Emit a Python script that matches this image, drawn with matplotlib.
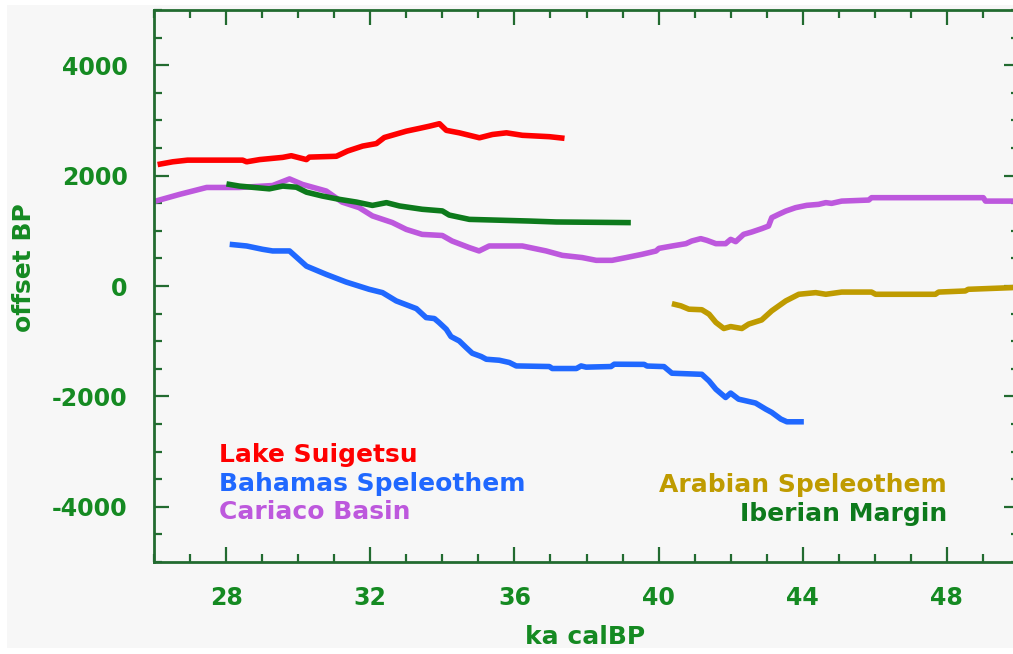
import numpy as np
import matplotlib
matplotlib.use('Agg')
import matplotlib.pyplot as plt
from matplotlib.patches import Rectangle
from matplotlib.ticker import MultipleLocator

# values (ka calBP, offset in years)
suigetsu_x = [26.10, 26.52, 26.93, 28.46, 28.57, 28.93, 29.57, 29.81, 30.23, 30.31,
              31.06, 31.37, 31.79, 32.17, 32.39, 33.00, 33.36, 33.64, 33.92, 34.11,
              34.47, 35.03, 35.39, 35.78, 36.22, 36.97, 37.39]
suigetsu_y = [2200, 2250, 2280, 2280, 2250, 2290, 2330, 2360, 2290, 2335,
              2350, 2445, 2535, 2580, 2690, 2805, 2855, 2895, 2940, 2820,
              2775, 2685, 2745, 2775, 2730, 2705, 2675]

iberian_x = [28.01, 28.37, 29.20, 29.57, 29.95, 30.23, 30.67, 31.14, 31.62, 32.06,
             32.45, 32.81, 33.44, 34.00, 34.19, 34.75, 36.41, 37.16, 39.23]
iberian_y = [1850, 1810, 1760, 1810, 1790, 1700, 1630, 1570, 1520, 1460,
             1510, 1450, 1390, 1360, 1285, 1207, 1177, 1160, 1148]

cariaco_x = [26.00, 26.71, 27.46, 28.37, 29.29, 29.76, 30.12, 30.78, 31.22, 31.69,
             32.06, 32.61, 33.00, 33.44, 34.00, 34.27, 34.75, 35.02, 35.30, 36.22,
             36.88, 37.33, 37.88, 38.27, 38.71, 39.10, 39.54, 39.93, 40.01, 40.37,
             40.76, 40.92, 41.17, 41.34, 41.59, 41.86, 42.00, 42.14, 42.36, 42.58,
             42.86, 43.05, 43.14, 43.33, 43.53, 43.80, 44.11, 44.44, 44.64, 44.80,
             45.08, 45.83, 45.91, 49.01, 49.07, 50.00]
cariaco_y = [1530, 1660, 1785, 1785, 1820, 1940, 1840, 1720, 1520, 1420,
             1270, 1150, 1025, 935, 915, 815, 695, 635, 725, 725,
             635, 555, 515, 465, 465, 515, 574, 634, 682, 724,
             767, 815, 858, 827, 767, 767, 845, 803, 936, 977,
             1039, 1086, 1238, 1298, 1358, 1419, 1461, 1479, 1510, 1497,
             1538, 1557, 1600, 1600, 1538, 1538]

bahamas_x = [28.10, 28.57, 29.01, 29.29, 29.76, 30.23, 30.78, 31.33, 31.97, 32.34,
             32.72, 33.28, 33.55, 33.78, 33.91, 34.11, 34.24, 34.47, 34.66, 34.83,
             35.08, 35.22, 35.58, 35.86, 36.05, 36.97, 37.05, 37.72, 37.85, 37.99,
             38.68, 38.77, 39.60, 39.68, 40.15, 40.37, 41.20, 41.40, 41.59, 41.86,
             42.00, 42.22, 42.69, 42.97, 43.14, 43.39, 43.56, 44.03]
bahamas_y = [755, 725, 665, 635, 635, 360, 210, 72, -60, -120,
             -270, -410, -572, -590, -662, -784, -916, -995, -1115, -1218,
             -1278, -1327, -1345, -1386, -1448, -1459, -1495, -1495, -1448, -1470,
             -1459, -1417, -1420, -1450, -1460, -1580, -1600, -1720, -1870, -2020,
             -1940, -2050, -2120, -2230, -2290, -2410, -2460, -2460]

arabian_x = [40.37, 40.62, 40.84, 41.20, 41.40, 41.59, 41.81, 42.00, 42.31, 42.50,
             42.86, 43.14, 43.53, 43.89, 44.36, 44.64, 45.08, 45.91, 46.02, 47.68,
             47.77, 48.51, 48.59, 49.79, 50.00]
arabian_y = [-320, -360, -420, -430, -510, -660, -770, -735, -770, -690,
             -615, -450, -270, -150, -120, -150, -110, -110, -150, -150,
             -110, -90, -60, -30, -20]

xtick_vals = [28, 32, 36, 40, 44, 48]
ytick_vals = [-4000, -2000, 0, 2000, 4000]
ytick_lbls = ['-4000', '-2000', '0', '2000', '4000']

red = '#ff0000'
blue = '#2068ff'
purple = '#bd58dd'
gold = '#bf9b00'
green = '#0d7a1c'
axis_green = '#226b30'
text_green = '#158a22'
bg = '#f7f7f7'

fig = plt.figure(figsize=(10.13, 6.54), dpi=100)
fig.patch.set_facecolor('white')
fig.patches.append(Rectangle((7 / 1013, 6 / 654), 1, 643 / 654, transform=fig.transFigure,
                             facecolor=bg, edgecolor='none', zorder=-10))

ax = fig.add_axes([154 / 1013, 92 / 654, 865 / 1013, 552 / 654])
ax.set_facecolor(bg)

lw = 4.0
ax.plot(suigetsu_x, suigetsu_y, color=red, lw=lw, solid_capstyle='butt')
ax.plot(cariaco_x, cariaco_y, color=purple, lw=lw, solid_capstyle='butt')
ax.plot(iberian_x, iberian_y, color=green, lw=lw, solid_capstyle='butt')
ax.plot(bahamas_x, bahamas_y, color=blue, lw=lw, solid_capstyle='butt')
ax.plot(arabian_x, arabian_y, color=gold, lw=lw, solid_capstyle='butt')

ax.set_xlim(26, 50)
ax.set_ylim(-5000, 5000)

ax.set_xticks(xtick_vals)
ax.set_yticks(ytick_vals)
ax.set_yticklabels(ytick_lbls)
ax.xaxis.set_minor_locator(MultipleLocator(1))
ax.yaxis.set_minor_locator(MultipleLocator(500))

for s in ax.spines.values():
    s.set_color(axis_green)
    s.set_linewidth(2)

ax.tick_params(which='both', direction='in', top=True, right=True,
               color=axis_green, width=1.6)
ax.tick_params(which='major', length=11)
ax.tick_params(which='minor', length=6)
ax.tick_params(axis='x', which='major', pad=17, labelsize=17, labelcolor=text_green)
ax.tick_params(axis='y', which='major', pad=19, labelsize=17, labelcolor=text_green)
for lbl in ax.get_xticklabels() + ax.get_yticklabels():
    lbl.set_fontweight('bold')

fig.text(24 / 1013, 1 - 268 / 654, 'offset BP', rotation=90, ha='center', va='center',
         fontsize=18, fontweight='bold', color=text_green)
fig.text(585 / 1013, 1 - 637 / 654, 'ka calBP', ha='center', va='center',
         fontsize=18, fontweight='bold', color=text_green)

# labels standing in for a legend
ax.text(27.8, -3190, 'Lake Suigetsu', color=red, fontsize=18, fontweight='bold', va='baseline')
ax.text(27.8, -3715, 'Bahamas Speleothem', color=blue, fontsize=18, fontweight='bold', va='baseline')
ax.text(27.8, -4220, 'Cariaco Basin', color=purple, fontsize=18, fontweight='bold', va='baseline')
ax.text(48.0, -3735, 'Arabian Speleothem', color=gold, fontsize=18, fontweight='bold',
        va='baseline', ha='right')
ax.text(48.0, -4260, 'Iberian Margin', color=green, fontsize=18, fontweight='bold',
        va='baseline', ha='right')

fig.savefig('out.png', dpi=100, facecolor=fig.get_facecolor())
